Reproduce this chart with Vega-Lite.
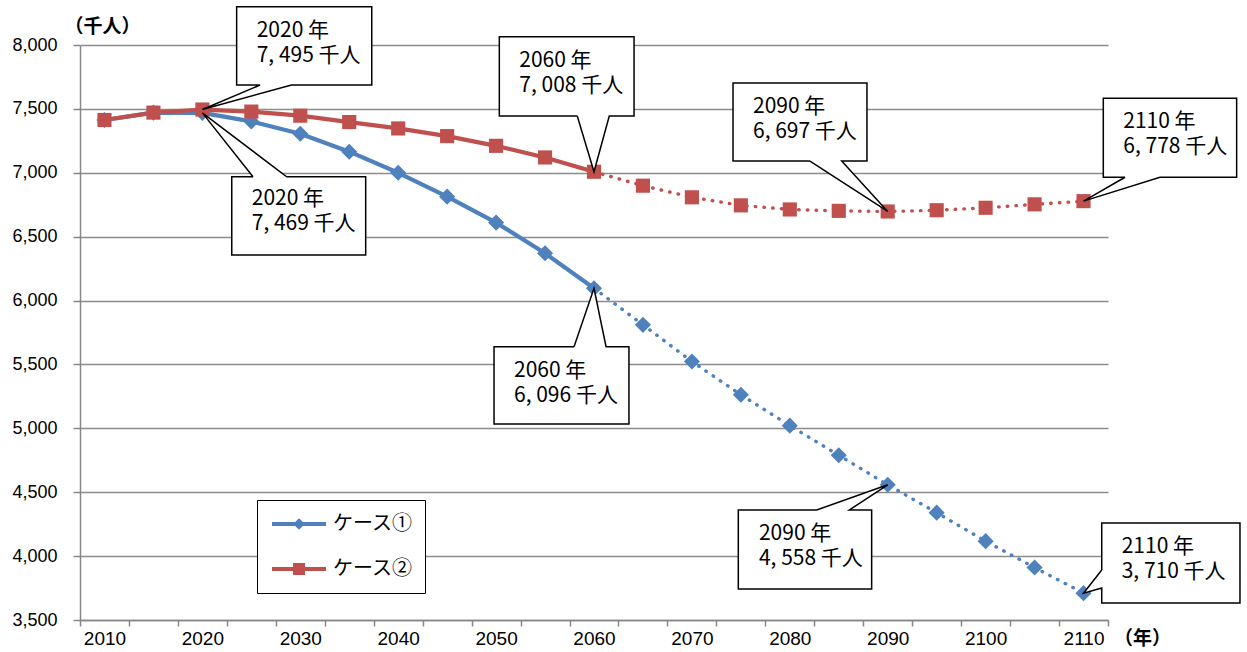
{
  "$schema": "https://vega.github.io/schema/vega-lite/v6.json",
  "width": 1028,
  "height": 575,
  "autosize": {"type": "none"},
  "padding": {"left": 80, "top": 45, "right": 139, "bottom": 32},
  "background": "white",
  "config": {
    "view": {"stroke": null},
    "axis": {"labelFont": "Liberation Sans", "labelFontSize": 18, "labelColor": "#000000", "titleFont": "Noto Sans CJK JP", "titleFontWeight": "bold", "titleFontSize": 19, "titleColor": "#000000"},
    "legend": {"labelFont": "Noto Sans CJK JP", "labelFontSize": 20, "labelColor": "#000000", "symbolStrokeWidth": 4, "symbolSize": 400, "symbolOffset": 18, "labelOffset": 22, "rowPadding": 22, "padding": 12, "strokeColor": "#000000", "fillColor": "white"}
  },
  "datasets": {
    "series": [
      {"year": 2010, "case": "ケース①", "value": 7413},
      {"year": 2015, "case": "ケース①", "value": 7471},
      {"year": 2020, "case": "ケース①", "value": 7469},
      {"year": 2025, "case": "ケース①", "value": 7402},
      {"year": 2030, "case": "ケース①", "value": 7305},
      {"year": 2035, "case": "ケース①", "value": 7165},
      {"year": 2040, "case": "ケース①", "value": 7000},
      {"year": 2045, "case": "ケース①", "value": 6813},
      {"year": 2050, "case": "ケース①", "value": 6610},
      {"year": 2055, "case": "ケース①", "value": 6370},
      {"year": 2060, "case": "ケース①", "value": 6096},
      {"year": 2065, "case": "ケース①", "value": 5810},
      {"year": 2070, "case": "ケース①", "value": 5523},
      {"year": 2075, "case": "ケース①", "value": 5263},
      {"year": 2080, "case": "ケース①", "value": 5021},
      {"year": 2085, "case": "ケース①", "value": 4789},
      {"year": 2090, "case": "ケース①", "value": 4558},
      {"year": 2095, "case": "ケース①", "value": 4340},
      {"year": 2100, "case": "ケース①", "value": 4117},
      {"year": 2105, "case": "ケース①", "value": 3911},
      {"year": 2110, "case": "ケース①", "value": 3710},
      {"year": 2010, "case": "ケース②", "value": 7413},
      {"year": 2015, "case": "ケース②", "value": 7471},
      {"year": 2020, "case": "ケース②", "value": 7495},
      {"year": 2025, "case": "ケース②", "value": 7479},
      {"year": 2030, "case": "ケース②", "value": 7447},
      {"year": 2035, "case": "ケース②", "value": 7397},
      {"year": 2040, "case": "ケース②", "value": 7347},
      {"year": 2045, "case": "ケース②", "value": 7287},
      {"year": 2050, "case": "ケース②", "value": 7211},
      {"year": 2055, "case": "ケース②", "value": 7120},
      {"year": 2060, "case": "ケース②", "value": 7008},
      {"year": 2065, "case": "ケース②", "value": 6899},
      {"year": 2070, "case": "ケース②", "value": 6808},
      {"year": 2075, "case": "ケース②", "value": 6745},
      {"year": 2080, "case": "ケース②", "value": 6713},
      {"year": 2085, "case": "ケース②", "value": 6702},
      {"year": 2090, "case": "ケース②", "value": 6697},
      {"year": 2095, "case": "ケース②", "value": 6707},
      {"year": 2100, "case": "ケース②", "value": 6726},
      {"year": 2105, "case": "ケース②", "value": 6753},
      {"year": 2110, "case": "ケース②", "value": 6778}
    ],
    "markers": [
      {"year": 2020},
      {"year": 2060},
      {"year": 2090}
    ],
    "callouts": [
      {"id": "c1", "order": 1, "year": 2025.9, "value": 7687},
      {"id": "c1", "order": 2, "year": 2020, "value": 7495},
      {"id": "c1", "order": 3, "year": 2029.1, "value": 7687},
      {"id": "c1", "order": 4, "year": 2037.3, "value": 7687},
      {"id": "c1", "order": 5, "year": 2037.3, "value": 8300},
      {"id": "c1", "order": 6, "year": 2023.5, "value": 8300},
      {"id": "c1", "order": 7, "year": 2023.5, "value": 7687},
      {"id": "c1", "order": 8, "year": 2025.9, "value": 7687},
      {"id": "c2", "order": 1, "year": 2025.17, "value": 6969},
      {"id": "c2", "order": 2, "year": 2020, "value": 7469},
      {"id": "c2", "order": 3, "year": 2028.61, "value": 6969},
      {"id": "c2", "order": 4, "year": 2036.68, "value": 6969},
      {"id": "c2", "order": 5, "year": 2036.68, "value": 6356},
      {"id": "c2", "order": 6, "year": 2023.0, "value": 6356},
      {"id": "c2", "order": 7, "year": 2023.0, "value": 6969},
      {"id": "c2", "order": 8, "year": 2025.17, "value": 6969},
      {"id": "c3", "order": 1, "year": 2058.29, "value": 7444},
      {"id": "c3", "order": 2, "year": 2060, "value": 7008},
      {"id": "c3", "order": 3, "year": 2061.56, "value": 7444},
      {"id": "c3", "order": 4, "year": 2064.09, "value": 7444},
      {"id": "c3", "order": 5, "year": 2064.09, "value": 8065},
      {"id": "c3", "order": 6, "year": 2050.33, "value": 8065},
      {"id": "c3", "order": 7, "year": 2050.33, "value": 7444},
      {"id": "c3", "order": 8, "year": 2058.29, "value": 7444},
      {"id": "c4", "order": 1, "year": 2057.96, "value": 5639},
      {"id": "c4", "order": 2, "year": 2060, "value": 6096},
      {"id": "c4", "order": 3, "year": 2061.23, "value": 5639},
      {"id": "c4", "order": 4, "year": 2063.57, "value": 5639},
      {"id": "c4", "order": 5, "year": 2063.57, "value": 5034},
      {"id": "c4", "order": 6, "year": 2049.79, "value": 5034},
      {"id": "c4", "order": 7, "year": 2049.79, "value": 5639},
      {"id": "c4", "order": 8, "year": 2057.96, "value": 5639},
      {"id": "c5", "order": 1, "year": 2082.06, "value": 7092},
      {"id": "c5", "order": 2, "year": 2090, "value": 6697},
      {"id": "c5", "order": 3, "year": 2085.3, "value": 7092},
      {"id": "c5", "order": 4, "year": 2087.88, "value": 7092},
      {"id": "c5", "order": 5, "year": 2087.88, "value": 7703},
      {"id": "c5", "order": 6, "year": 2074.2, "value": 7703},
      {"id": "c5", "order": 7, "year": 2074.2, "value": 7092},
      {"id": "c5", "order": 8, "year": 2082.06, "value": 7092},
      {"id": "c6", "order": 1, "year": 2082.75, "value": 4361},
      {"id": "c6", "order": 2, "year": 2090, "value": 4558},
      {"id": "c6", "order": 3, "year": 2086.08, "value": 4361},
      {"id": "c6", "order": 4, "year": 2088.36, "value": 4361},
      {"id": "c6", "order": 5, "year": 2088.36, "value": 3743},
      {"id": "c6", "order": 6, "year": 2074.74, "value": 3743},
      {"id": "c6", "order": 7, "year": 2074.74, "value": 4361},
      {"id": "c6", "order": 8, "year": 2082.75, "value": 4361},
      {"id": "c7", "order": 1, "year": 2114.24, "value": 6965},
      {"id": "c7", "order": 2, "year": 2110, "value": 6778},
      {"id": "c7", "order": 3, "year": 2117.81, "value": 6965},
      {"id": "c7", "order": 4, "year": 2125.64, "value": 6965},
      {"id": "c7", "order": 5, "year": 2125.64, "value": 7583},
      {"id": "c7", "order": 6, "year": 2112.02, "value": 7583},
      {"id": "c7", "order": 7, "year": 2112.02, "value": 6965},
      {"id": "c7", "order": 8, "year": 2114.24, "value": 6965},
      {"id": "c8", "order": 1, "year": 2111.86, "value": 3891},
      {"id": "c8", "order": 2, "year": 2110, "value": 3710},
      {"id": "c8", "order": 3, "year": 2111.86, "value": 3750},
      {"id": "c8", "order": 4, "year": 2111.86, "value": 3633},
      {"id": "c8", "order": 5, "year": 2125.98, "value": 3633},
      {"id": "c8", "order": 6, "year": 2125.98, "value": 4259},
      {"id": "c8", "order": 7, "year": 2111.86, "value": 4259},
      {"id": "c8", "order": 8, "year": 2111.86, "value": 3891}
    ],
    "labels": [
      {"id": "c1", "year": 2025.55, "value": 8065, "label": "2020 年\n7, 495 千人"},
      {"id": "c2", "year": 2025.04, "value": 6748, "label": "2020 年\n7, 469 千人"},
      {"id": "c3", "year": 2052.37, "value": 7830, "label": "2060 年\n7, 008 千人"},
      {"id": "c4", "year": 2051.83, "value": 5404, "label": "2060 年\n6, 096 千人"},
      {"id": "c5", "year": 2076.24, "value": 7468, "label": "2090 年\n6, 697 千人"},
      {"id": "c6", "year": 2076.85, "value": 4126, "label": "2090 年\n4, 558 千人"},
      {"id": "c7", "year": 2114.06, "value": 7348, "label": "2110 年\n6, 778 千人"},
      {"id": "c8", "year": 2113.9, "value": 4024, "label": "2110 年\n3, 710 千人"}
    ]
  },
  "encoding": {
    "x": {
      "field": "year", "type": "quantitative",
      "scale": {"domain": [2007.5, 2112.5], "nice": false, "zero": false},
      "axis": {
        "title": "（年）", "titleAngle": 0, "titleX": 1062, "titleY": 18, "titleAlign": "center", "titleBaseline": "middle",
        "values": [2007.5, 2010, 2012.5, 2017.5, 2020, 2022.5, 2027.5, 2030, 2032.5, 2037.5, 2040, 2042.5, 2047.5, 2050, 2052.5, 2057.5, 2060, 2062.5, 2067.5, 2070, 2072.5, 2077.5, 2080, 2082.5, 2087.5, 2090, 2092.5, 2097.5, 2100, 2102.5, 2107.5, 2110, 2112.5],
        "labelExpr": "datum.value % 10 == 0 ? format(datum.value, 'd') : ''",
        "tickColor": {"condition": {"test": "datum.value % 10 == 0", "value": "transparent"}, "value": "#868686"},
        "tickSize": 6, "tickWidth": 1.5, "labelPadding": 3, "labelOverlap": false, "labelFlush": false, "labelFontSize": 19,
        "domainColor": "#868686", "domainWidth": 1.5, "grid": false
      }
    },
    "y": {
      "field": "value", "type": "quantitative",
      "scale": {"domain": [3500, 8000], "nice": false, "zero": false},
      "axis": {
        "title": "（千人）", "titleAngle": 0, "titleX": 22, "titleY": -19, "titleAlign": "center", "titleBaseline": "middle",
        "values": [3500, 4000, 4500, 5000, 5500, 6000, 6500, 7000, 7500, 8000],
        "labelExpr": "format(datum.value, ',')", "labelFontSize": 18,
        "tickSize": 7, "tickWidth": 1.5, "tickColor": "#868686", "labelPadding": 16,
        "domainColor": "#868686", "domainWidth": 1.5,
        "grid": true, "gridColor": "#8c8c8c", "gridWidth": 1.5
      }
    }
  },
  "layer": [
    {
      "data": {"name": "series"},
      "transform": [{"filter": "datum.year <= 2060 && datum.case == 'ケース①'"}],
      "mark": {"type": "line", "strokeWidth": 4.2, "strokeJoin": "round", "color": "#4F81BD"},
      "encoding": {}
    },
    {
      "data": {"name": "series"},
      "transform": [{"filter": "datum.year <= 2060 && datum.case == 'ケース②'"}],
      "mark": {"type": "line", "strokeWidth": 4.2, "strokeJoin": "round", "color": "#C0504D"},
      "encoding": {}
    },
    {
      "data": {"name": "series"},
      "transform": [{"filter": "datum.year >= 2060 && datum.case == 'ケース①'"}],
      "mark": {"type": "line", "strokeWidth": 3.4, "strokeDash": [0.5, 8.2], "strokeCap": "round", "color": "#4F81BD"},
      "encoding": {}
    },
    {
      "data": {"name": "series"},
      "transform": [{"filter": "datum.year >= 2060 && datum.case == 'ケース②'"}],
      "mark": {"type": "line", "strokeWidth": 3.4, "strokeDash": [0.5, 8.2], "strokeCap": "round", "color": "#C0504D"},
      "encoding": {}
    },
    {
      "data": {"name": "series"},
      "transform": [{"filter": "datum.case == 'ケース①'"}],
      "mark": {"type": "point", "shape": "diamond", "filled": true, "size": 260, "color": "#4F81BD", "opacity": 1},
      "encoding": {}
    },
    {
      "data": {"name": "series"},
      "transform": [{"filter": "datum.case == 'ケース②'"}],
      "mark": {"type": "point", "shape": "square", "filled": true, "size": 200, "color": "#C0504D", "opacity": 1},
      "encoding": {}
    },
    {
      "data": {"name": "series"},
      "transform": [{"filter": "datum.year == 2010"}],
      "mark": {"type": "point", "filled": false, "opacity": 0},
      "encoding": {
        "color": {
          "field": "case", "type": "nominal",
          "scale": {"domain": ["ケース①", "ケース②"], "range": ["#4F81BD", "#C0504D"]},
          "legend": {
            "title": null, "orient": "none", "legendX": 177, "legendY": 455,
            "strokeColor": "#000000", "fillColor": "white", "padding": 12,
            "symbolSize": 400, "symbolStrokeWidth": 4, "symbolOpacity": 1, "symbolOffset": 18,
            "labelFont": "Noto Sans CJK JP", "labelFontSize": 20, "labelColor": "#000000",
            "labelOffset": 22, "rowPadding": 22
          }
        },
        "shape": {
          "field": "case", "type": "nominal",
          "scale": {"domain": ["ケース①", "ケース②"], "range": ["M-2.7,0H2.7M0,-0.3L0.3,0L0,0.3L-0.3,0Z", "M-2.7,0H2.7M-0.4,-0.4H0.4V0.4H-0.4Z"]},
          "legend": {
            "title": null, "orient": "none", "legendX": 177, "legendY": 455,
            "strokeColor": "#000000", "fillColor": "white", "padding": 12,
            "symbolSize": 400, "symbolStrokeWidth": 4, "symbolOpacity": 1, "symbolOffset": 18,
            "labelFont": "Noto Sans CJK JP", "labelFontSize": 20, "labelColor": "#000000",
            "labelOffset": 22, "rowPadding": 22
          }
        }
      }
    },
    {
      "data": {"name": "markers"},
      "mark": {"type": "rule", "color": "#4F81BD", "strokeWidth": 1.5, "strokeDash": [7, 5]},
      "encoding": {
        "y": {
          "datum": 8000, "type": "quantitative",
          "scale": {"domain": [3500, 8000], "nice": false, "zero": false},
          "axis": {
            "title": "（千人）", "titleAngle": 0, "titleX": 22, "titleY": -19, "titleAlign": "center", "titleBaseline": "middle",
            "values": [3500, 4000, 4500, 5000, 5500, 6000, 6500, 7000, 7500, 8000],
            "labelExpr": "format(datum.value, ',')", "labelFontSize": 18,
            "tickSize": 7, "tickWidth": 1.5, "tickColor": "#868686", "labelPadding": 16,
            "domainColor": "#868686", "domainWidth": 1.5,
            "grid": true, "gridColor": "#8c8c8c", "gridWidth": 1.5
          }
        },
        "y2": {"datum": 3500}
      }
    },
    {
      "data": {"name": "callouts"},
      "mark": {"type": "line", "fill": "white", "stroke": "#000000", "strokeWidth": 1.5, "strokeJoin": "miter"},
      "encoding": {
        "detail": {"field": "id"},
        "order": {"field": "order", "type": "quantitative"}
      }
    },
    {
      "data": {"name": "labels"},
      "mark": {"type": "text", "align": "left", "baseline": "alphabetic", "lineBreak": "\n", "lineHeight": 25, "font": "Liberation Sans Narrow, Noto Sans CJK JP", "fontSize": 21, "color": "#000000"},
      "encoding": {
        "text": {"field": "label"}
      }
    }
  ]
}
